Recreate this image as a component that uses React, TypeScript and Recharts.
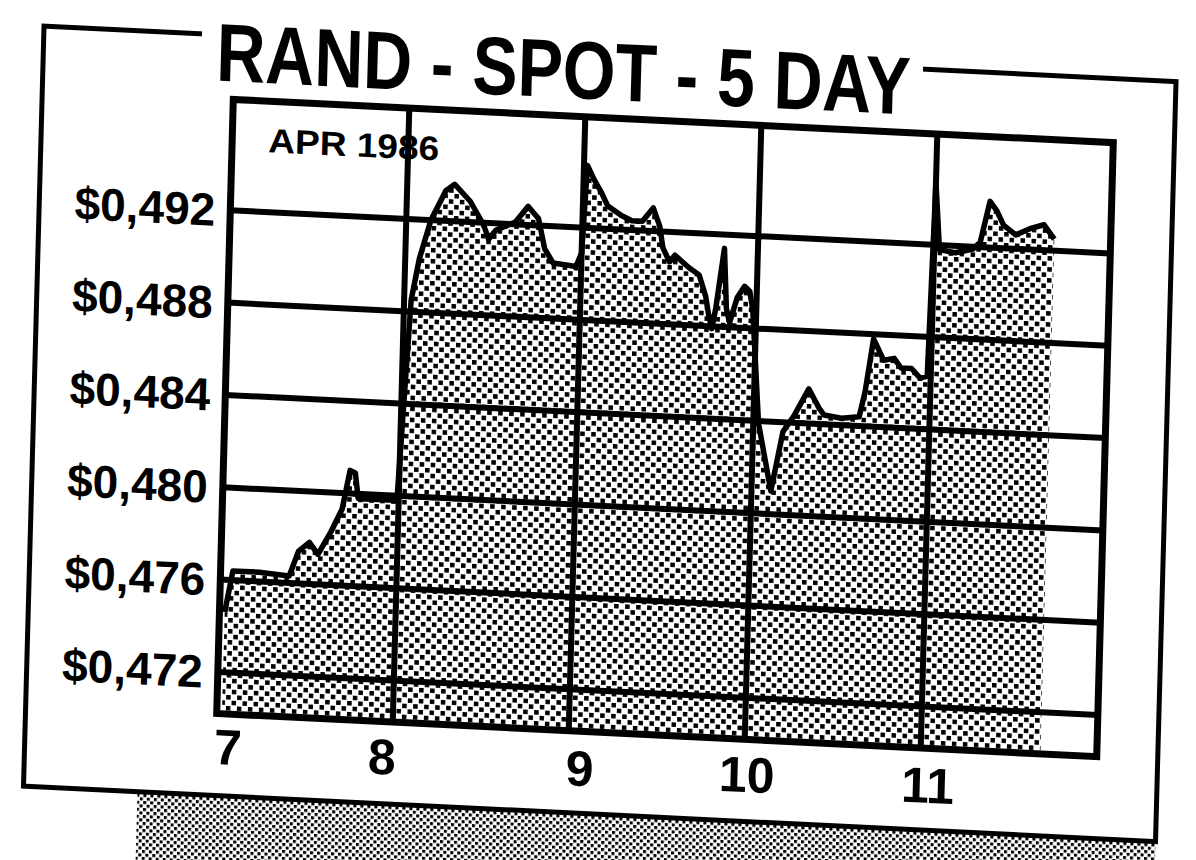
import { AreaChart, Area, XAxis, YAxis, ReferenceLine } from 'recharts'

// intraday rand spot rate, 7-11 April 1986 (x = day of month + fraction of day)
const times = [
  7.03, 7.07, 7.22, 7.39, 7.44, 7.5, 7.55, 7.62, 7.68, 7.72, 7.75, 7.77, 7.81, 7.92, 7.99,
  8.04, 8.08, 8.14, 8.22, 8.27, 8.36, 8.44, 8.47, 8.51, 8.62, 8.69, 8.75, 8.79, 8.84, 8.97, 9.0,
  9.02, 9.06, 9.1, 9.14, 9.22, 9.28, 9.34, 9.4, 9.44, 9.46, 9.5, 9.53, 9.61, 9.67, 9.71, 9.73,
  9.75, 9.77, 9.81, 9.83, 9.85, 9.89, 9.93, 9.96, 9.98,
  10.03, 10.11, 10.17, 10.23, 10.31, 10.37, 10.4, 10.5, 10.6, 10.63, 10.67, 10.73, 10.79, 10.83,
  10.89, 10.94, 10.98,
  11.0, 11.03, 11.12, 11.22, 11.26, 11.31, 11.35, 11.39, 11.46, 11.54, 11.62, 11.68,
]
const rates = [
  0.4746, 0.4764, 0.4764, 0.4763, 0.4774, 0.4778, 0.4773, 0.4783, 0.4793, 0.481, 0.4809, 0.4798, 0.4798, 0.4798, 0.4798,
  0.4885, 0.4903, 0.492, 0.4933, 0.4936, 0.4929, 0.4919, 0.4913, 0.4917, 0.4921, 0.4928, 0.4923, 0.491, 0.4904, 0.4903, 0.4909,
  0.4947, 0.4941, 0.4936, 0.493, 0.4926, 0.4924, 0.4924, 0.493, 0.4922, 0.4913, 0.4907, 0.491, 0.4905, 0.4902, 0.4893, 0.4885,
  0.4879, 0.4888, 0.4914, 0.4888, 0.4882, 0.4893, 0.4898, 0.4896, 0.4888,
  0.4839, 0.481, 0.4836, 0.4843, 0.4855, 0.4847, 0.4844, 0.4843, 0.4844, 0.4855, 0.4878, 0.4869, 0.487, 0.4866,
  0.4866, 0.4862, 0.4863,
  0.4947, 0.4918, 0.4917, 0.4919, 0.4922, 0.494, 0.4936, 0.493, 0.4926, 0.4929, 0.4931, 0.4925,
]
const rateTicks = [0.472, 0.476, 0.48, 0.484, 0.488, 0.492]
const dayTicks = [7, 8, 9, 10, 11]
const dayLines = [8, 9, 10, 11]
const title = 'RAND - SPOT - 5 DAY'
const monthLabel = 'APR 1986'

const data = times.map((t, i) => ({ t, rate: rates[i] }))
const money = (v: number) => '$' + v.toFixed(3).replace('.', ',')

const font = 'Liberation Sans, Arial, Helvetica, sans-serif'

// hand set nudges, the pasted-up day numbers are not quite centred on the grid
const dayNudge: Record<number, [number, number]> = { 7: [12, -2], 8: [-10, 0], 9: [12, 2], 10: [3, 0], 11: [8, 2] }

function DayTick(props: any) {
  const { x, y, payload } = props
  const [dx, dy] = dayNudge[payload.value] || [0, 0]
  return (
    <text
      x={x + dx}
      y={y + dy}
      dy="0.71em"
      textAnchor="middle"
      fontFamily={font}
      fontWeight="bold"
      fontSize={50}
      fill="#000"
    >
      {payload.value}
    </text>
  )
}

export default function App() {
  return (
    <div style={{ position: 'absolute', left: 0, top: 0, width: 1196, height: 860, overflow: 'hidden', background: '#fff' }}>
      {/* whole clipping is skewed a little, like the scan */}
      <div
        style={{
          position: 'absolute',
          left: 0,
          top: 0,
          width: 1196,
          height: 860,
          transform: 'matrix(1, 0.049, -0.027, 1, 0, 0)',
          transformOrigin: '664px 428px',
        }}
      >
        <svg width={1196} height={920} style={{ position: 'absolute', left: 0, top: 0 }}>
          <defs>
            <pattern id="shadowDots" width={7} height={7} patternUnits="userSpaceOnUse">
              <rect x={0} y={0} width={3} height={3} fill="#000" />
              <rect x={3.5} y={3.5} width={3} height={3} fill="#000" />
            </pattern>
          </defs>
          <rect x={148} y={817} width={1018} height={90} fill="url(#shadowDots)" />
          <rect x={34} y={57} width={1132} height={760} fill="none" stroke="#000" strokeWidth={5} />
          <rect x={192} y={35} width={721} height={45} fill="#fff" />
          <text
            x={207}
            y={103}
            textLength={694}
            lengthAdjust="spacingAndGlyphs"
            fontFamily={font}
            fontWeight="bold"
            fontSize={82}
            fill="#000"
          >
            {title}
          </text>
        </svg>

        <div style={{ position: 'absolute', left: 25, top: 100 }}>
          <AreaChart width={1090} height={720} data={data} margin={{ top: 21, right: 10, left: 0, bottom: 0 }}>
            <defs>
              <pattern id="halftone" width={11} height={11} patternUnits="userSpaceOnUse">
                <rect x={0} y={0} width={4.5} height={4.5} fill="#000" />
                <rect x={5.5} y={5.5} width={4.5} height={4.5} fill="#000" />
              </pattern>
            </defs>
            <XAxis
              type="number"
              dataKey="t"
              domain={[7, 12]}
              ticks={dayTicks}
              interval={0}
              allowDataOverflow
              axisLine={false}
              tickLine={false}
              tickSize={15}
              height={85}
              tick={<DayTick />}
            />
            <YAxis
              type="number"
              domain={[0.4702, 0.4968]}
              ticks={rateTicks}
              interval={0}
              allowDataOverflow
              tickFormatter={money}
              axisLine={false}
              tickLine={false}
              tickSize={13}
              width={200}
              tick={{ fontSize: 46, fontWeight: 'bold', fill: '#000', fontFamily: font }}
            />
            <Area
              type="linear"
              dataKey="rate"
              stroke="#000"
              strokeWidth={5.5}
              strokeLinejoin="round"
              fill="url(#halftone)"
              fillOpacity={1}
              dot={false}
              activeDot={false}
              isAnimationActive={false}
            />
            {rateTicks.map((v) => (
              <ReferenceLine key={'y' + v} y={v} stroke="#000" strokeWidth={6} />
            ))}
            {dayLines.map((d) => (
              <ReferenceLine key={'x' + d} x={d} stroke="#000" strokeWidth={6} />
            ))}
          </AreaChart>
        </div>

        <svg width={1196} height={860} style={{ position: 'absolute', left: 0, top: 0, pointerEvents: 'none' }}>
          <rect x={225} y={121} width={880} height={614} fill="none" stroke="#000" strokeWidth={7} />
          <text
            x={261}
            y={172}
            textLength={171}
            lengthAdjust="spacingAndGlyphs"
            fontFamily={font}
            fontWeight="bold"
            fontSize={34}
            fill="#000"
          >
            {monthLabel}
          </text>
        </svg>
      </div>
    </div>
  )
}
